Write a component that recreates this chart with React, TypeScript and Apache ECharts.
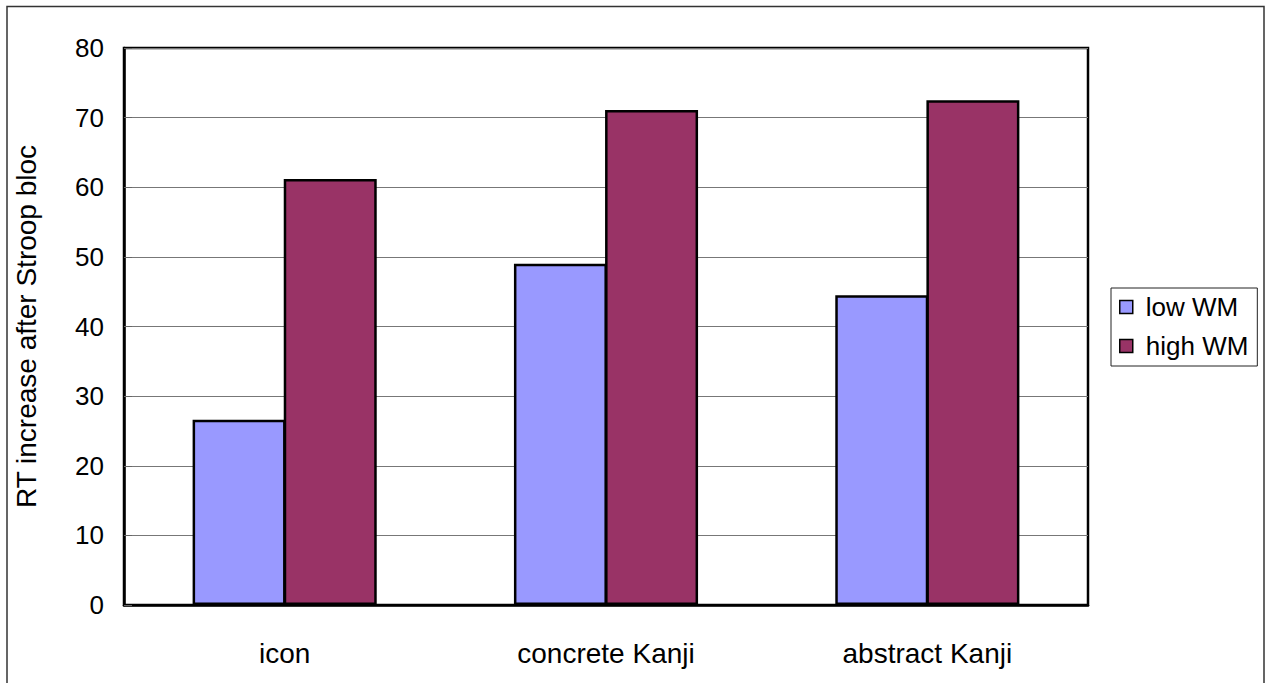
import React, { useEffect, useRef } from "react";
import * as echarts from "echarts";

const categories = ["icon", "concrete Kanji", "abstract Kanji"];
const lowWM = [26.6, 49.0, 44.5];
const highWM = [61.2, 71.1, 72.5];
const seriesNames = ["low WM", "high WM"];
const yTicks = { min: 0, max: 80, interval: 10 };
const yAxisName = "RT increase after Stroop bloc";

const FONT = "'Liberation Sans', Arial, sans-serif";

export default function App() {
  const ref = useRef<HTMLDivElement>(null);
  useEffect(() => {
    document.body.style.margin = "0";
    const chart = echarts.init(ref.current!, null, { renderer: "svg" });
    chart.setOption({
      animation: false,
      backgroundColor: "#fff",
      textStyle: { fontFamily: FONT },
      graphic: [
        {
          type: "rect",
          shape: { x: 7, y: 6.5, width: 1257, height: 700 },
          style: { fill: "none", stroke: "#333", lineWidth: 1.5 },
          silent: true,
        },
      ],
      grid: {
        left: 124,
        top: 48,
        right: 177,
        bottom: 78,
        show: true,
        borderColor: "#000",
        borderWidth: 2.5,
        backgroundColor: "transparent",
      },
      legend: {
        orient: "vertical",
        left: 1111,
        top: 288,
        padding: [5, 9, 6, 8],
        itemWidth: 13,
        itemHeight: 13,
        itemGap: 11,
        borderColor: "#222",
        borderWidth: 1,
        icon: "rect",
        data: seriesNames,
        textStyle: {
          fontSize: 26,
          color: "#000",
          fontFamily: FONT,
          lineHeight: 28,
          padding: [0, 0, 0, 8],
        },
        itemStyle: { borderColor: "#000", borderWidth: 1.5 },
      },
      xAxis: {
        type: "category",
        data: categories,
        axisLine: { lineStyle: { color: "#000", width: 2.5 } },
        axisTick: { inside: true, length: 8, lineStyle: { color: "#666", width: 1 } },
        axisLabel: { fontSize: 28, color: "#000", margin: 34, fontFamily: FONT },
      },
      yAxis: {
        type: "value",
        min: yTicks.min,
        max: yTicks.max,
        interval: yTicks.interval,
        name: yAxisName,
        nameLocation: "middle",
        nameGap: 84,
        nameTextStyle: { fontSize: 28, color: "#000", fontFamily: FONT },
        axisLine: { show: true, lineStyle: { color: "#000", width: 2.5 } },
        axisTick: { show: true, inside: true, length: 8, lineStyle: { color: "#666", width: 1 } },
        axisLabel: { fontSize: 26, color: "#000", margin: 20, fontFamily: FONT },
        splitLine: { show: true, lineStyle: { color: "#777", width: 1.2 } },
      },
      series: [
        {
          name: seriesNames[0],
          type: "bar",
          data: lowWM,
          barGap: "-2%",
          barCategoryGap: "42.7%",
          itemStyle: { color: "#9999FF", borderColor: "#000", borderWidth: 2.5 },
        },
        {
          name: seriesNames[1],
          type: "bar",
          data: highWM,
          barGap: "-2%",
          barCategoryGap: "42.7%",
          itemStyle: { color: "#993366", borderColor: "#000", borderWidth: 2.5 },
        },
      ],
    });
    return () => chart.dispose();
  }, []);
  return <div ref={ref} style={{ width: 1265, height: 683 }} />;
}
